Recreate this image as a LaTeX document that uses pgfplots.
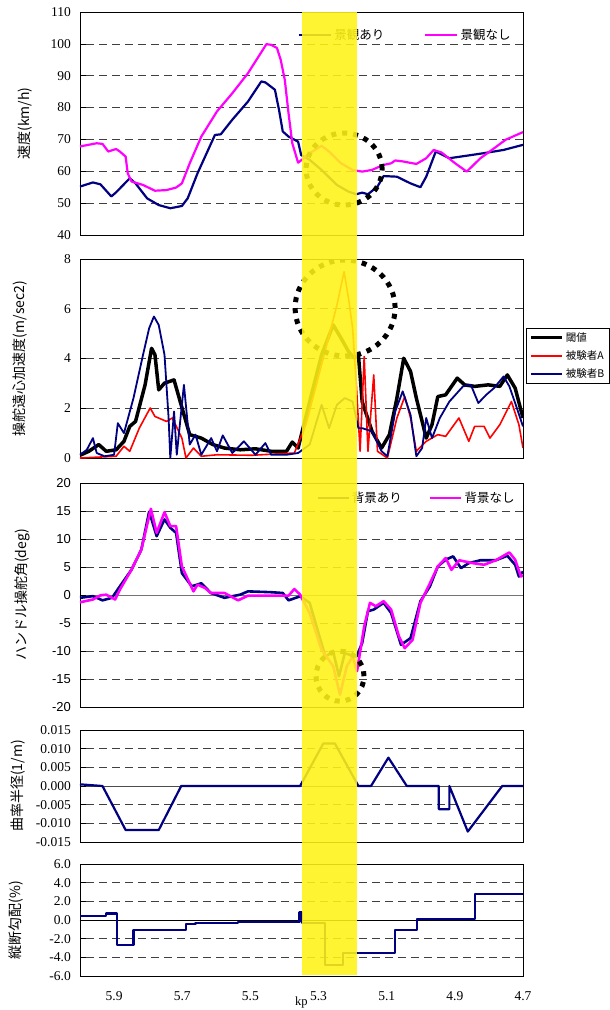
\documentclass[border=0pt]{standalone}
\usepackage{pgfplots}
\pgfplotsset{compat=1.18}
\usepackage{fontspec}
\setmainfont{Liberation Serif}
\setsansfont{Liberation Sans}
\newfontfamily\jp{Noto Sans CJK JP}
\definecolor{navy}{RGB}{0,0,128}
\definecolor{mag}{RGB}{255,0,255}

\tikzset{circ/.style={black, line width=5pt, dash pattern=on 5pt off 6pt}}
\pgfplotsset{
  panel/.style={
    scale only axis, width=443pt, x dir=reverse, xmin=4.7, xmax=6.0,
    xtick={4.7,4.9,5.1,5.3,5.5,5.7,5.9},
    anchor=north west,
    axis line style={black, line width=0.9pt},
    ymajorgrids,
    major grid style={black!75, dash pattern=on 8pt off 5pt, line width=0.6pt},
    major tick length=6pt, tick align=inside, ytick pos=left,
    ytick style={black, line width=0.7pt}, xtick style={draw=none},
    tick label style={font=\fontsize{13.5pt}{15pt}\selectfont},
    /pgf/number format/assume math mode=true,
    yticklabel style={anchor=east, inner sep=0pt, xshift=-9pt},
    ylabel style={anchor=center, font=\jp\fontsize{14pt}{16pt}\selectfont},
    every axis plot/.append style={line join=round},
  },
  zeroline/.style={extra y ticks={0}, extra y tick labels={},
    extra y tick style={ymajorgrids, major grid style={solid, #1, line width=0.8pt}}},
  leg/.style={legend image code/.code={\draw[##1] (0pt,0pt) -- (#1,0pt);}},
}

\begin{document}
\begin{tikzpicture}[x=1pt,y=1pt]
\path[use as bounding box] (0,0) rectangle (610,-1010);

% ---------------- speed
\begin{axis}[panel, at={(80pt,-12pt)}, height=223pt,
  ymin=40, ymax=110, ytick={40,50,...,110}, xticklabels={},
  ylabel={速度(km/h)}, ylabel style={at={(axis description cs:-0.124,0.5)}},
  leg=32pt,
  legend style={draw=none, fill=none, inner sep=0pt,
    at={(axis description cs:0.492,0.897)}, anchor=west,
    font=\jp\fontsize{12.5pt}{14pt}\selectfont,
    /tikz/every even column/.append style={column sep=38pt}},
  legend columns=2]
\addplot[navy, line width=2.2pt] coordinates {
(6.000,55.2)(5.962,56.5)(5.940,55.9)(5.908,52.1)(5.894,53.4)(5.854,57.8)(5.837,56.2)
(5.803,51.5)(5.769,49.4)(5.735,48.4)(5.701,49.1)(5.684,51.5)(5.655,59.4)(5.604,71.4)
(5.587,71.6)(5.553,76.2)(5.507,81.9)(5.468,88.2)(5.456,87.9)(5.428,85.6)(5.416,79.3)
(5.405,72.5)(5.388,70.9)(5.360,69.3)(5.351,65.1)(5.326,63.6)(5.291,60.4)(5.246,55.7)
(5.212,53.6)(5.189,52.8)(5.172,53.3)(5.155,52.8)(5.127,55.2)(5.109,58.5)(5.070,58.3)
(5.030,56.2)(5.001,55.0)(4.984,58.3)(4.956,66.2)(4.916,64.1)(4.871,64.8)(4.814,65.7)
(4.757,66.7)(4.700,68.3)};
\addlegendentry{景観あり}
\addplot[mag, line width=2.2pt] coordinates {
(6.000,67.8)(5.951,68.8)(5.934,68.6)(5.917,66.2)(5.894,67.0)(5.883,66.2)(5.866,64.6)
(5.860,59.4)(5.849,56.8)(5.815,55.7)(5.780,53.9)(5.746,54.1)(5.718,54.9)(5.701,56.2)
(5.678,62.5)(5.644,70.9)(5.598,78.8)(5.553,84.5)(5.507,90.8)(5.453,99.9)(5.439,99.7)
(5.422,98.7)(5.411,95.0)(5.399,88.7)(5.388,78.2)(5.377,68.8)(5.360,62.7)(5.343,64.1)
(5.326,65.7)(5.291,68.0)(5.269,66.2)(5.234,62.5)(5.200,60.4)(5.172,59.9)(5.144,60.4)
(5.109,62.0)(5.087,62.5)(5.075,63.4)(5.053,63.1)(5.013,62.3)(4.984,64.1)(4.962,66.7)
(4.939,65.9)(4.899,62.5)(4.865,59.9)(4.825,64.1)(4.785,67.2)(4.751,69.9)(4.700,72.3)};
\addlegendentry{景観なし}
\draw[circ] (axis cs:5.225,60.7) ellipse [x radius=38pt, y radius=36pt];
\coordinate (bandA) at (axis cs:5.348,110);
\end{axis}

% ---------------- centripetal acceleration
\begin{axis}[panel, at={(80pt,-259pt)}, height=199pt,
  ymin=0, ymax=8, ytick={0,2,...,8}, xticklabels={},
  ylabel={操舵遠心加速度(m/sec2)}, ylabel style={at={(axis description cs:-0.135,0.5)}},
  leg=31pt,
  legend style={draw=black, fill=white, inner xsep=3pt, inner ysep=2pt, row sep=4pt,
    at={(axis description cs:1.007,0.653)}, anchor=north west,
    font=\jp\fontsize{10.5pt}{12pt}\selectfont},
  legend cell align=left]
\addplot[black, line width=3.5pt] coordinates {
(6.000,0.11)(5.974,0.27)(5.945,0.54)(5.923,0.27)(5.894,0.33)(5.871,0.67)(5.854,1.27)
(5.837,1.47)(5.809,2.94)(5.790,4.41)(5.780,4.15)(5.769,2.74)(5.752,3.01)(5.724,3.14)
(5.706,2.27)(5.678,0.94)(5.644,0.80)(5.610,0.54)(5.576,0.40)(5.530,0.33)(5.485,0.37)
(5.439,0.27)(5.394,0.27)(5.377,0.64)(5.360,0.40)(5.326,2.27)(5.291,4.15)(5.257,5.35)
(5.234,4.82)(5.212,4.28)(5.195,4.01)(5.183,4.15)(5.172,2.27)(5.143,1.07)(5.115,0.40)
(5.092,0.94)(5.070,2.41)(5.050,4.01)(5.030,3.48)(5.013,2.41)(4.996,1.47)(4.984,0.80)
(4.967,1.34)(4.950,2.47)(4.927,2.54)(4.893,3.21)(4.871,2.94)(4.842,2.88)(4.802,2.94)
(4.768,2.88)(4.746,3.34)(4.723,2.81)(4.700,1.61)};
\addlegendentry{閾値}
\addplot[red, line width=1.6pt] coordinates {
(6.000,0.00)(5.894,0.07)(5.871,0.47)(5.854,0.27)(5.826,1.20)(5.794,2.01)(5.780,1.67)
(5.746,1.47)(5.729,1.61)(5.701,0.80)(5.689,0.00)(5.667,0.40)(5.644,0.07)(5.598,0.13)
(5.496,0.11)(5.371,0.20)(5.337,1.34)(5.291,3.75)(5.246,6.15)(5.225,7.49)(5.212,6.42)
(5.200,5.22)(5.189,2.94)(5.178,0.27)(5.166,4.08)(5.155,0.27)(5.138,3.34)(5.127,0.27)
(5.098,0.00)(5.070,1.61)(5.047,2.47)(5.030,1.61)(5.013,0.27)(4.984,0.67)(4.950,0.94)
(4.927,0.87)(4.888,1.61)(4.859,0.67)(4.842,1.27)(4.814,1.27)(4.797,0.80)(4.768,1.34)
(4.734,2.27)(4.712,1.34)(4.700,0.40)};
\addlegendentry{被験者A}
\addplot[navy, line width=1.8pt] coordinates {
(6.000,0.13)(5.980,0.33)(5.962,0.80)(5.951,0.20)(5.928,0.07)(5.900,0.13)(5.889,1.40)
(5.871,1.00)(5.843,2.41)(5.815,4.15)(5.797,5.22)(5.783,5.69)(5.769,5.35)(5.752,4.15)
(5.740,1.61)(5.735,0.00)(5.724,1.87)(5.716,0.13)(5.695,2.94)(5.678,0.54)(5.661,0.94)
(5.644,0.13)(5.615,0.80)(5.598,0.27)(5.581,0.91)(5.553,0.20)(5.519,0.67)(5.485,0.13)
(5.456,0.60)(5.439,0.13)(5.394,0.13)(5.360,0.20)(5.326,0.54)(5.291,2.14)(5.269,1.20)
(5.246,2.14)(5.223,2.41)(5.200,2.27)(5.183,1.20)(5.172,1.20)(5.143,1.07)(5.115,0.27)
(5.098,0.07)(5.075,1.87)(5.053,2.68)(5.030,1.74)(5.013,0.07)(4.996,0.40)(4.984,1.61)
(4.967,0.80)(4.944,1.61)(4.916,2.27)(4.876,2.88)(4.853,2.94)(4.831,2.21)(4.808,2.54)
(4.785,2.81)(4.757,3.28)(4.740,2.88)(4.723,2.21)(4.700,1.27)};
\addlegendentry{被験者B}
\draw[circ] (axis cs:5.222,6.03) ellipse [x radius=50pt, y radius=48pt];
\end{axis}

% ---------------- steering angle
\begin{axis}[panel, zeroline=black!55, at={(80pt,-483pt)}, height=224pt,
  ymin=-20, ymax=20, ytick={-20,-15,...,20}, xticklabels={},
  yticklabel style={font=\sffamily\fontsize{13pt}{15pt}\selectfont},
  ylabel={ハンドル操舵角(deg)}, ylabel style={at={(axis description cs:-0.131,0.5)}},
  leg=31pt,
  legend style={draw=none, fill=none, inner sep=0pt,
    at={(axis description cs:0.533,0.933)}, anchor=west,
    font=\jp\fontsize{12.5pt}{14pt}\selectfont,
    /tikz/every even column/.append style={column sep=25pt}},
  legend columns=2]
\addplot[navy, line width=2.6pt] coordinates {
(6.000,-0.5)(5.962,-0.2)(5.934,-0.95)(5.906,-0.5)(5.883,1.55)(5.849,4.5)(5.820,8.1)
(5.797,14.9)(5.775,10.5)(5.752,13.5)(5.735,12.0)(5.718,11.1)(5.701,3.9)(5.672,1.55)
(5.644,2.1)(5.616,0.36)(5.576,-0.5)(5.530,0.06)(5.507,0.65)(5.439,0.5)(5.405,0.36)
(5.388,-0.95)(5.354,-0.24)(5.326,-1.4)(5.280,-11.0)(5.257,-10.1)(5.240,-14.5)
(5.223,-10.4)(5.189,-11.0)(5.172,-8.6)(5.155,-2.9)(5.138,-2.6)(5.109,-1.4)(5.087,-3.2)
(5.058,-8.9)(5.030,-7.7)(5.001,-1.1)(4.973,1.55)(4.950,5.1)(4.927,6.3)(4.905,6.9)
(4.882,4.8)(4.859,5.7)(4.825,6.2)(4.780,6.2)(4.746,7.0)(4.723,5.4)(4.712,3.3)(4.700,4.2)};
\addlegendentry{背景あり}
\addplot[mag, line width=2.6pt] coordinates {
(6.000,-1.3)(5.962,-0.8)(5.940,-0.06)(5.923,0.06)(5.897,-0.8)(5.883,0.95)(5.849,4.5)
(5.820,8.1)(5.792,15.4)(5.775,11.1)(5.752,14.8)(5.735,12.3)(5.718,12.3)(5.701,5.1)
(5.667,0.65)(5.655,1.85)(5.633,1.25)(5.616,0.36)(5.576,0.36)(5.536,-0.95)(5.507,-0.12)
(5.439,-0.12)(5.388,-0.12)(5.371,1.07)(5.354,0.06)(5.326,-3.2)(5.291,-9.8)(5.257,-12.7)
(5.237,-17.8)(5.217,-12.7)(5.200,-11.0)(5.187,-13.6)(5.166,-5.6)(5.149,-1.4)(5.132,-2.0)
(5.109,-1.1)(5.087,-2.6)(5.064,-7.4)(5.047,-9.5)(5.024,-8.0)(5.001,-1.4)(4.973,2.1)
(4.950,5.1)(4.927,6.6)(4.910,4.5)(4.887,6.2)(4.848,5.7)(4.814,5.4)(4.780,6.2)(4.740,7.6)
(4.723,6.3)(4.706,3.3)(4.700,3.5)};
\addlegendentry{背景なし}
\draw[circ] (axis cs:5.237,-14.5) ellipse [x radius=24pt, y radius=25pt];
\end{axis}

% ---------------- curvature
\begin{axis}[panel, zeroline=black!70, at={(80pt,-730pt)}, height=112pt,
  ymin=-0.015, ymax=0.015, ytick={-0.015,-0.010,-0.005,0,0.005,0.010,0.015},
  scaled y ticks=false, xticklabels={},
  yticklabel style={/pgf/number format/.cd, fixed, fixed zerofill, precision=3},
  ylabel={曲率半径(1/m)}, ylabel style={at={(axis description cs:-0.141,0.5)}}]
\addplot[navy, line width=2.2pt] coordinates {
(6.000,0.00045)(5.934,0)(5.866,-0.0118)(5.769,-0.0118)(5.703,0)(5.354,0)(5.286,0.0114)
(5.252,0.0114)(5.183,0)(5.146,0)(5.095,0.0076)(5.041,0)(4.947,0)(4.947,-0.0062)
(4.916,-0.0062)(4.916,0)(4.862,-0.0122)(4.761,0)(4.700,0)};
\end{axis}

% ---------------- gradient
\begin{axis}[panel, zeroline=black, at={(80pt,-864pt)}, height=112pt,
  ymin=-6, ymax=6, ytick={-6,-4,...,6},
  yticklabel style={/pgf/number format/.cd, fixed, fixed zerofill, precision=1},
  xticklabels={4.7,4.9,5.1,5.3,5.5,5.7,5.9},
  xticklabel style={anchor=north, inner sep=0pt, yshift=-15pt},
  ylabel={縦断勾配(\%)}, ylabel style={at={(axis description cs:-0.144,0.5)}},
  xlabel={kp}, xlabel style={at={(axis description cs:0.5,-0.232)}, anchor=center,
    font=\fontsize{12.5pt}{14pt}\selectfont}]
\addplot[navy, line width=2.2pt] coordinates {
(6.000,0.4)(5.923,0.4)(5.923,0.7)(5.891,0.7)(5.891,-2.7)(5.843,-2.7)(5.843,-1.1)
(5.689,-1.1)(5.689,-0.45)(5.661,-0.45)(5.661,-0.3)(5.536,-0.3)(5.536,-0.2)(5.356,-0.2)
(5.356,0.8)(5.348,0.8)(5.348,-0.3)(5.280,-0.3)(5.280,-4.8)(5.229,-4.8)(5.229,-3.5)
(5.075,-3.5)(5.075,-1.1)(5.010,-1.1)(5.010,0.1)(4.842,0.1)(4.842,2.75)(4.700,2.75)};
\coordinate (bandB) at (axis cs:5.187,-5.9);
\end{axis}

% highlighted section
\fill[yellow!92!white, opacity=0.88] (bandA) rectangle (bandB);
\end{tikzpicture}
\end{document}
